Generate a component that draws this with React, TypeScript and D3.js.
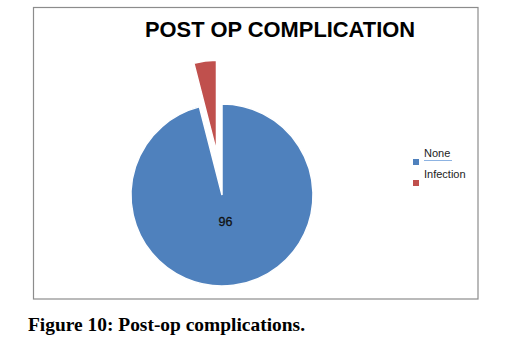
import React from "react";
import * as d3 from "d3";

// categories and values
const categories = ["None", "Infection"];
const values = [96, 4];
const showLabel = [true, false];
const colors = ["#4F81BD", "#C0504D"];

const width = 506;
const height = 343;

export default function App() {
  const cx = 222;
  const cy = 195;
  const r = 91;

  const pie = d3
    .pie<number>()
    .sort(null)
    .startAngle(0)
    .endAngle(2 * Math.PI)
    .value((d) => d);
  const arcs = pie(values);
  const arc = d3.arc<d3.PieArcDatum<number>>().innerRadius(0).outerRadius(r);
  const labelArc = d3.arc<d3.PieArcDatum<number>>().innerRadius(0).outerRadius(r * 0.6);

  // small slices pulled out, like the original
  const explode = (d: d3.PieArcDatum<number>) => {
    if (d.value > 10) return [0, 0];
    const mid = (d.startAngle + d.endAngle) / 2;
    return [Math.sin(mid) * 44, -Math.cos(mid) * 44];
  };

  const legendY = d3.scalePoint<string>().domain(categories).range([157, 178]);

  return (
    <svg
      width={width}
      height={height}
      style={{ position: "absolute", left: 0, top: 0, background: "#fff" }}
    >
      <rect x={33.5} y={7.5} width={444.5} height={291.5} fill="#fff" stroke="#8c8c8c" strokeWidth={1.2} />
      <text
        x={145}
        y={37}
        textLength={270}
        lengthAdjust="spacingAndGlyphs"
        fontFamily="Liberation Sans, Arial, sans-serif"
        fontWeight="bold"
        fontSize={21.5}
        fill="#000"
      >
        POST OP COMPLICATION
      </text>

      <g transform={`translate(${cx},${cy})`}>
        {arcs.map((d, i) => {
          const [dx, dy] = explode(d);
          return (
            <g key={categories[i]} transform={`translate(${dx},${dy})`}>
              <path d={arc(d) ?? ""} fill={colors[i]} stroke="#fff" strokeWidth={1.5} />
              {showLabel[i] && (
                <text
                  x={labelArc.centroid(d)[0]}
                  y={labelArc.centroid(d)[1]}
                  dy="0.35em"
                  textAnchor="middle"
                  fontFamily="Liberation Sans, Arial, sans-serif"
                  fontSize={12.5}
                  fill="#111"
                  stroke="#111"
                  strokeWidth={0.3}
                >
                  {values[i]}
                </text>
              )}
            </g>
          );
        })}
      </g>

      <g fontFamily="Liberation Sans, Arial, sans-serif" fontSize={11} fill="#222">
        {categories.map((c, i) => (
          <g key={c}>
            <rect x={413} y={(legendY(c) ?? 0) + 2} width={6} height={6} fill={colors[i]} />
            <text x={424} y={legendY(c)}>
              {c}
            </text>
          </g>
        ))}
        <line x1={424} x2={452} y1={160.5} y2={160.5} stroke="#8db3e2" strokeWidth={1} />
      </g>

      <text
        x={28}
        y={331}
        textLength={277}
        lengthAdjust="spacingAndGlyphs"
        fontFamily="Liberation Serif, serif"
        fontWeight="bold"
        fontSize={19}
        fill="#000"
      >
        Figure 10: Post-op complications.
      </text>
    </svg>
  );
}
